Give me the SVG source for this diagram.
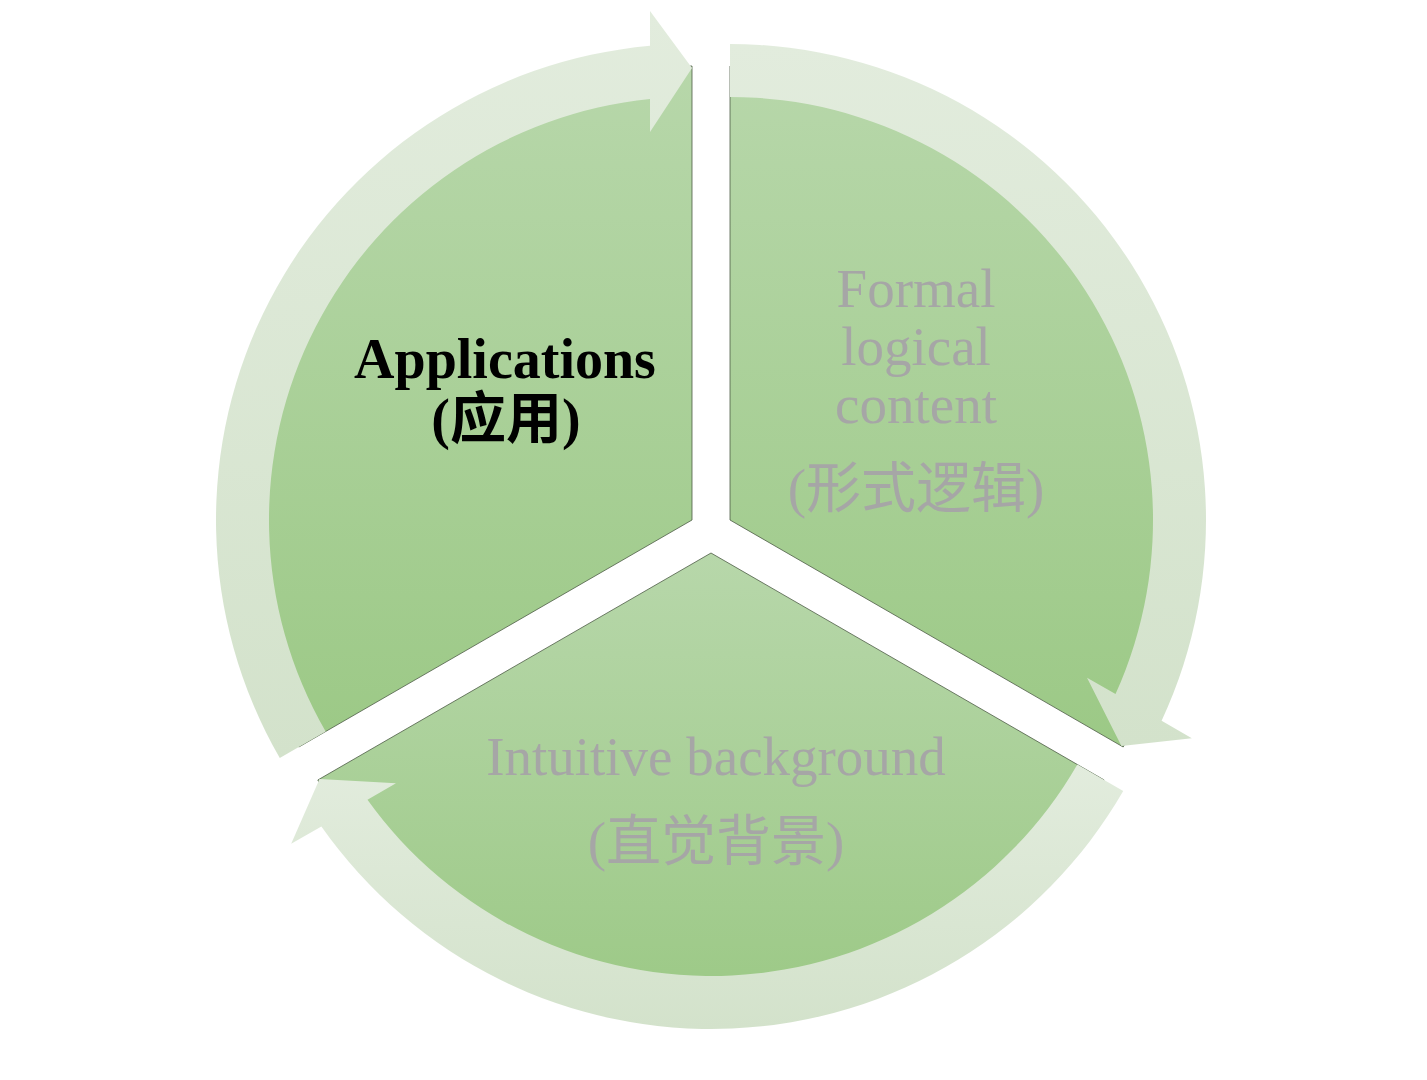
<svg xmlns="http://www.w3.org/2000/svg" width="1427" height="1080" viewBox="0 0 1427 1080">
  <defs>
    <linearGradient id="segGrad" x1="0" y1="0" x2="0" y2="1">
      <stop offset="0" stop-color="#b7d7aa"/>
      <stop offset="1" stop-color="#9cc986"/>
    </linearGradient>
    <linearGradient id="arrGrad" x1="0" y1="0" x2="0" y2="1">
      <stop offset="0" stop-color="#e2ecdd"/>
      <stop offset="1" stop-color="#d3e2cb"/>
    </linearGradient>
  </defs>
  <style>
    .seg { fill: url(#segGrad); stroke: #4d5c45; stroke-width: 0.8; }
    .arrow { fill: url(#arrGrad); stroke: none; }
    .lbl { font-family: "Liberation Serif", "Noto Sans CJK SC", serif; font-size: 55px; text-anchor: middle; fill: #a6a6a6; }
    .lbl-bold { font-family: "Liberation Serif", "Noto Sans CJK SC", serif; font-size: 56px; font-weight: bold; text-anchor: middle; fill: #000000; }
  </style>
  <rect width="1427" height="1080" fill="#ffffff"/>

  <g id="node-applications">
    <path class="seg" d="M 692 520 L 298.82 747 A 454 454 0 0 1 692 66 Z"/>
    <text class="lbl-bold" x="505" y="378">Applications</text>
    <text class="lbl-bold" x="506" y="438">(应用)</text>
  </g>

  <g id="node-formal">
    <path class="seg" d="M 730 520 L 730 66 A 454 454 0 0 1 1123.18 747 Z"/>
    <text class="lbl" x="916" y="307">Formal</text>
    <text class="lbl" x="916" y="365">logical</text>
    <text class="lbl" x="916" y="423">content</text>
    <text class="lbl" x="916" y="507">(形式逻辑)</text>
  </g>

  <g id="node-intuitive">
    <path class="seg" d="M 711 553 L 1104.18 780 A 454 454 0 0 1 317.82 780 Z"/>
    <text class="lbl" x="716" y="775" font-size="56">Intuitive background</text>
    <text class="lbl" x="716" y="860">(直觉背景)</text>
  </g>

  <g id="connectors">
    <path class="arrow" d="M 279.78 758 A 476 476 0 0 1 650 45.86 L 650 11 L 692 68 L 650 132 L 650 99.09 A 423 423 0 0 0 325.66 731.5 Z"/>
    <path class="arrow" d="M 730 44 A 476 476 0 0 1 1161.62 720.70 L 1191.81 738.13 L 1121.45 746 L 1087.02 677.63 L 1115.53 694.08 A 423 423 0 0 0 730 97 Z"/>
    <path class="arrow" d="M 1123.22 791 A 476 476 0 0 1 321.38 826.44 L 291.19 843.87 L 319.55 779 L 395.98 783.37 L 367.47 799.82 A 423 423 0 0 0 1077.34 764.5 Z"/>
  </g>
</svg>
